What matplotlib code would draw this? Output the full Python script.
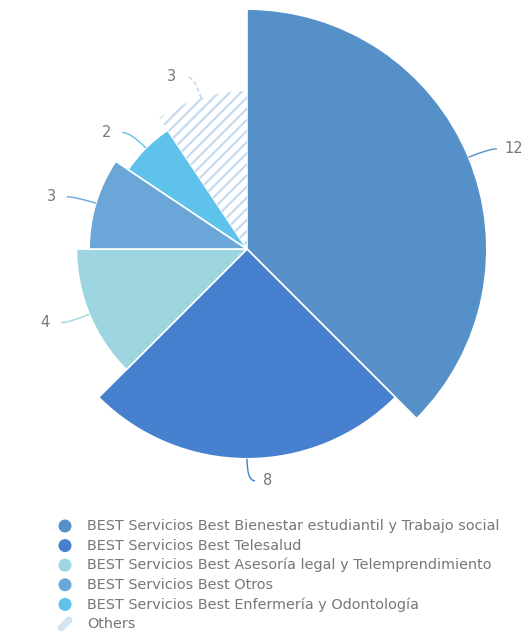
import matplotlib
matplotlib.use("Agg")
import matplotlib.pyplot as plt
import numpy as np
from matplotlib.patches import Wedge, Circle
from matplotlib.path import Path
from matplotlib.patches import PathPatch

# --- data ---
categories = [
    "BEST Servicios Best Bienestar estudiantil y Trabajo social",
    "BEST Servicios Best Telesalud",
    "BEST Servicios Best Asesoría legal y Telemprendimiento",
    "BEST Servicios Best Otros",
    "BEST Servicios Best Enfermería y Odontología",
    "Others",
]
values = [12, 8, 4, 3, 2, 3]

# --- style ---
colors = ["#5591c8", "#4680cf", "#9dd6e0", "#6aa6d8", "#5ec2ea", "#ffffff"]
line_colors = ["#5591c8", "#4680cf", "#9dd6e0", "#6aa6d8", "#5ec2ea", "#b5d3ee"]
hatch_color = "#c2d9ef"
text_color = "#777777"
W, H = 527, 634
cx, cy = 247, H - 249          # pie centre in pixel coords (y up)

plt.rcParams["hatch.linewidth"] = 1.5

fig = plt.figure(figsize=(W / 100, H / 100), dpi=100)
ax = fig.add_axes([0, 0, 1, 1])
ax.set_xlim(0, W)
ax.set_ylim(0, H)
ax.set_axis_off()

total = sum(values)
# radius scale: grows with sqrt of value
radii = [76 + 47.3 * np.sqrt(v) for v in values]

start = 90.0
for i, (v, r) in enumerate(zip(values, radii)):
    span = v / total * 360
    t1, t2 = start - span, start
    if categories[i] == "Others":
        ax.add_patch(Wedge((cx, cy), r, t1, t2, facecolor="white",
                           edgecolor=hatch_color, hatch="///", linewidth=0))
    else:
        ax.add_patch(Wedge((cx, cy), r, t1, t2, facecolor=colors[i],
                           edgecolor="white", linewidth=1.2))

    # leader line and value label
    mid = np.radians((t1 + t2) / 2)
    c, s = np.cos(mid), np.sin(mid)
    side = 1 if c >= -1e-9 else -1
    p0 = (cx + r * c, cy + r * s)
    p1 = (cx + (r + 22) * c, cy + (r + 22) * s)
    p2 = (p1[0] + 8 * side, p1[1])
    path = Path([p0, p1, p2], [Path.MOVETO, Path.CURVE3, Path.CURVE3])
    ls = (0, (3, 2)) if categories[i] == "Others" else "-"
    ax.add_patch(PathPatch(path, facecolor="none", edgecolor=line_colors[i],
                           linewidth=1.0, linestyle=ls))
    gap = 8 if side > 0 else 11
    ax.text(p2[0] + gap * side, p2[1], str(v), ha="left" if side > 0 else "right",
            va="center", fontsize=10.5, color=text_color)
    start = t1

# --- legend ---
leg_y0 = H - 526
for i, name in enumerate(categories):
    y = leg_y0 - i * 19.6
    if name == "Others":
        ax.plot([61, 69], [y - 4, y + 4], color="#d3e4f2", linewidth=5,
                solid_capstyle="round")
    else:
        ax.add_patch(Circle((65, y), 6.5, facecolor=colors[i], edgecolor="none"))
    ax.text(87, y, name, ha="left", va="center", fontsize=10.4, color=text_color)

fig.savefig("out.png", dpi=100)
